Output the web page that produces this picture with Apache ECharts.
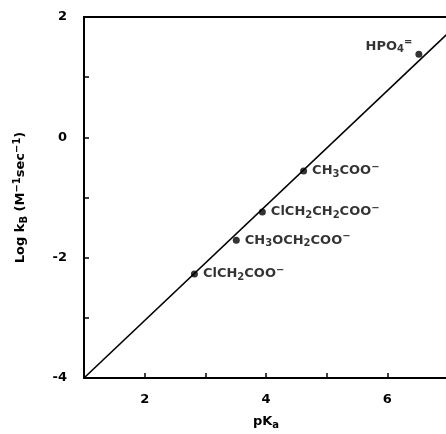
<!DOCTYPE html>
<html>
<head>
<meta charset="utf-8">
<script src="https://cdn.jsdelivr.net/npm/echarts@6/dist/echarts.min.js"></script>
<style>
  html, body { margin: 0; padding: 0; background: #fff; overflow: hidden; }
  #chart { width: 446px; height: 434px; }
</style>
</head>
<body>
<div id="chart"></div>
<script>
(() => {
    // measured points: pKa of the base vs log kB
    const pKa = [6.52, 4.62, 3.94, 3.51, 2.82];
    const logKB = [1.38, -0.56, -1.24, -1.71, -2.27];
    const baseNames = [
        '{n|HPO}{s|4}{p|=}',
        '{n|CH}{s|3}{n|COO}{p|−}',
        '{n|ClCH}{s|2}{n|CH}{s|2}{n|COO}{p|−}',
        '{n|CH}{s|3}{n|OCH}{s|2}{n|COO}{p|−}',
        '{n|ClCH}{s|2}{n|COO}{p|−}'
    ];
    // straight line through the points
    const fitX = [1, 7];
    const fitY = [-4, 1.73];

    const FONT = 'DejaVu Sans';
    const rich = {
        n: { fontFamily: FONT, fontSize: 13, lineHeight: 17, color: '#000', fontWeight: 'bold' },
        s: { fontFamily: FONT, fontSize: 10, lineHeight: 11, verticalAlign: 'bottom', color: '#000', fontWeight: 'bold' },
        p: { fontFamily: FONT, fontSize: 10, lineHeight: 11, verticalAlign: 'top', color: '#000', fontWeight: 'bold' }
    };

    let points = pKa.map((x, i) => {
        let item = { value: [x, logKB[i]] };
        if (i === 0) {
            item.label = { position: 'left', distance: 3, offset: [0, -8] };
        }
        return item;
    });

    let chart = echarts.init(document.getElementById('chart'), null, { renderer: 'canvas' });
    let option = {
        animation: false,
        backgroundColor: '#fff',
        grid: {
            left: 84, top: 17, right: -2, bottom: 56,
            outerBoundsMode: 'none',
            containLabel: false,
            show: true, borderColor: '#000', borderWidth: 2
        },
        xAxis: {
            type: 'value', min: 1, max: 7, interval: 1,
            name: '{n|pK}{s|a}',
            nameLocation: 'middle', nameGap: 35,
            nameTextStyle: { rich: rich },
            axisLine: { onZero: false, lineStyle: { color: '#000', width: 2 } },
            axisTick: { inside: true, length: 5, lineStyle: { color: '#000', width: 1.5 } },
            axisLabel: {
                margin: 15, color: '#000', fontFamily: FONT, fontSize: 13, fontWeight: 'bold',
                formatter: v => (v % 2 === 0 ? String(v) : '')
            },
            splitLine: { show: false }
        },
        yAxis: {
            type: 'value', min: -4, max: 2, interval: 1,
            name: '{n|Log k}{s|B}{n| (M}{p|−1}{n|sec}{p|−1}{n|)}',
            nameLocation: 'middle', nameGap: 55,
            nameTextStyle: { rich: rich },
            axisLine: { onZero: false, lineStyle: { color: '#000', width: 2 } },
            axisTick: { inside: true, length: 5, lineStyle: { color: '#000', width: 1.5 } },
            axisLabel: {
                margin: 17, color: '#000', fontFamily: FONT, fontSize: 13, fontWeight: 'bold',
                formatter: v => (v % 2 === 0 ? String(v) : '')
            },
            splitLine: { show: false }
        },
        series: [
            {
                type: 'line',
                data: fitX.map((x, i) => [x, fitY[i]]),
                showSymbol: false,
                lineStyle: { color: '#000', width: 1.6 },
                silent: true,
                z: 1
            },
            {
                type: 'scatter',
                data: points,
                symbol: 'circle',
                symbolSize: 7,
                itemStyle: { color: '#000' },
                label: {
                    show: true,
                    position: 'right',
                    distance: 5,
                    formatter: p => baseNames[p.dataIndex],
                    rich: rich
                },
                silent: true,
                z: 2
            }
        ]
    };
    chart.setOption(option);
})();
</script>
</body>
</html>
